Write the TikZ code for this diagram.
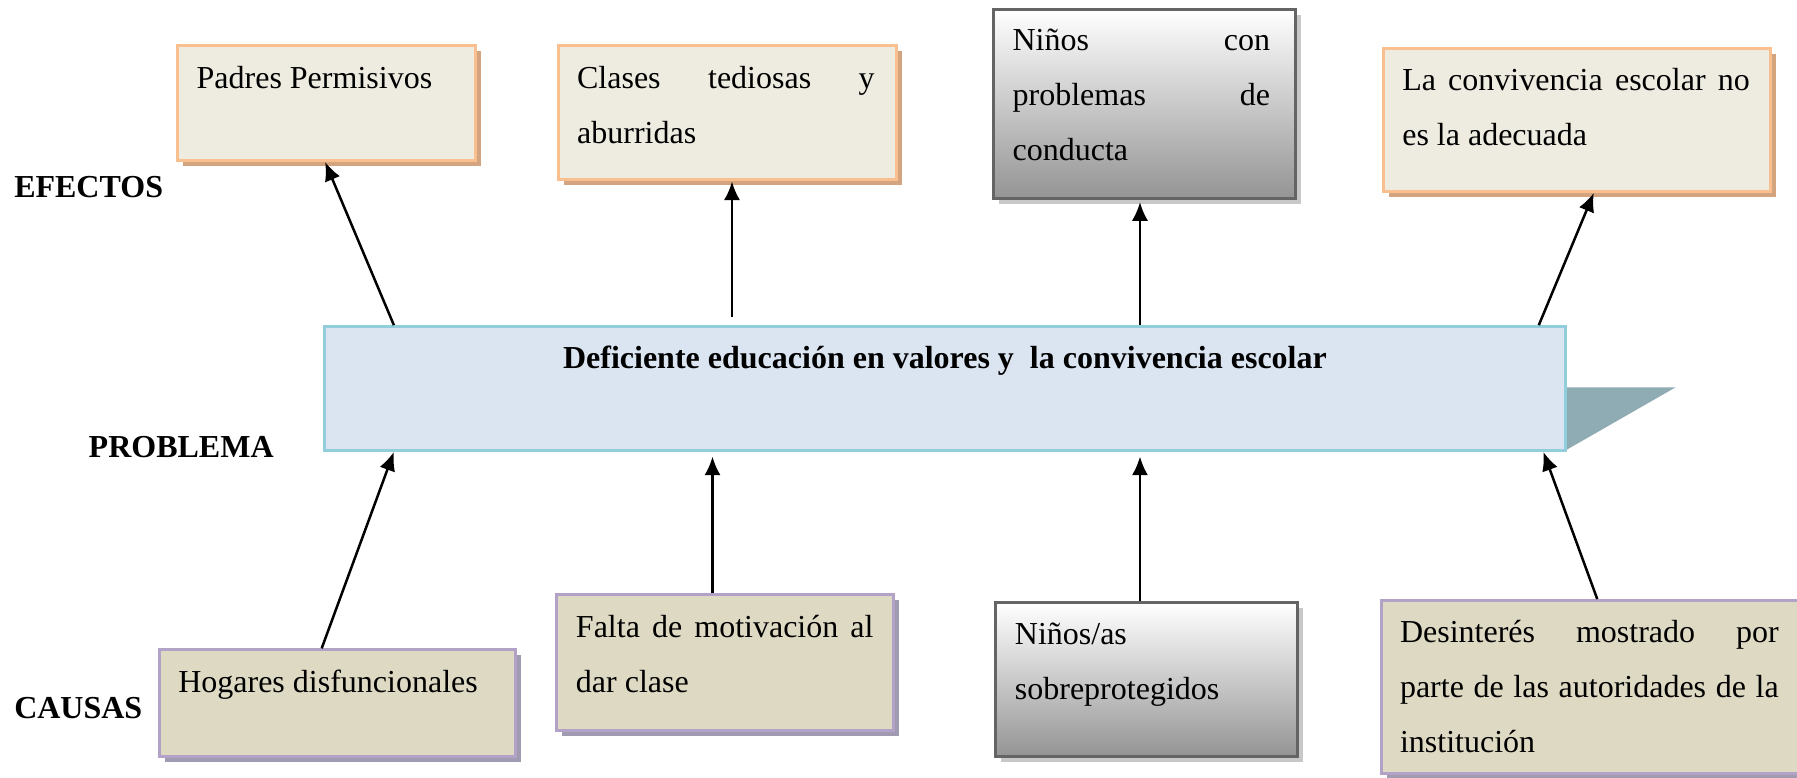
\documentclass[tikz,border=0pt]{standalone}
\usepackage{fontspec}
\setmainfont{Liberation Serif}
\usetikzlibrary{arrows.meta,fit,shadows}

\hyphenpenalty=10000
\exhyphenpenalty=10000
\tolerance=10000
\hbadness=10000

\definecolor{effline}{RGB}{250,191,143}
\definecolor{efffill}{RGB}{238,236,225}
\definecolor{effshadow}{RGB}{212,164,126}
\definecolor{cauline}{RGB}{179,162,199}
\definecolor{caufill}{RGB}{221,217,195}
\definecolor{caushadow}{RGB}{160,155,176}
\definecolor{probline}{RGB}{146,205,220}
\definecolor{probfill}{RGB}{219,229,241}
\definecolor{probtip}{RGB}{143,171,179}
\definecolor{greyline}{RGB}{100,100,100}
\definecolor{greybot}{RGB}{148,148,148}
\definecolor{greyshadow}{RGB}{200,200,200}

\tikzset{
    effbox/.style={draw=effline,fill=efffill,line width=1.2pt,inner sep=0pt,
        drop shadow={shadow xshift=2.2pt,shadow yshift=-2.2pt,fill=effshadow,opacity=1}},
    caubox/.style={draw=cauline,fill=caufill,line width=1.2pt,inner sep=0pt,
        drop shadow={shadow xshift=2.2pt,shadow yshift=-2.2pt,fill=caushadow,opacity=1}},
    greybox/.style={draw=greyline,top color=white,bottom color=greybot,line width=1.2pt,inner sep=0pt,
        drop shadow={shadow xshift=2.2pt,shadow yshift=-2.2pt,fill=greyshadow,opacity=1}},
    probbox/.style={draw=probline,fill=probfill,line width=1.2pt,inner sep=0pt},
    txt/.style={anchor=north west,inner xsep=8pt,inner ysep=8.4pt,align=justify,
        font=\fontsize{12.8pt}{22pt}\selectfont},
    probtxt/.style={inner sep=0pt,font=\bfseries\fontsize{12.8pt}{15pt}\selectfont},
    lbl/.style={anchor=west,inner sep=0pt,font=\bfseries\fontsize{12.8pt}{15pt}\selectfont},
    arr/.style={line width=1pt,-{Latex[length=7.5pt,width=6.5pt]}}
}

\begin{document}
\begin{tikzpicture}[x=0.4584pt,y=-0.4584pt]
        \useasboundingbox (0,0) rectangle (1568,678);
        %% Labels
        \node[lbl] (efectos) at (12,163) {EFECTOS};
        \node[lbl] (problema) at (77,390) {PROBLEMA};
        \node[lbl] (causas) at (12,618) {CAUSAS};
        %% Problem
        \fill[probtip] (1366,338) -- (1462,338) -- (1366,393) -- cycle;
        \node[probbox,fit={(283,285) (1366,393)}] (prob) {};
        \node[probtxt,anchor=north] (probt) at ([shift={(0,18)}]prob.north)
            {Deficiente educación en valores y~ la convivencia escolar};
        %% Effects
        \node[effbox,fit={(155,40) (415,140)}] (padres) {};
        \node[txt,text width=103pt] (padrest) at (padres.north west)
            {Padres Permisivos};
        \node[effbox,fit={(487,40) (782,157)}] (clases) {};
        \node[txt,text width=119pt] (clasest) at (clases.north west)
            {Clases tediosas y\linebreak aburridas};
        \node[greybox,fit={(867,8) (1130,173)}] (conducta) {};
        \node[txt,text width=103pt] (conductat) at (conducta.north west)
            {Niños con\linebreak problemas de\linebreak conducta};
        \node[effbox,fit={(1207,42) (1545,167)}] (conviv) {};
        \node[txt,text width=139pt] (convivt) at (conviv.north west)
            {La convivencia escolar no\linebreak es la adecuada};
        %% Causes
        \node[caubox,fit={(139,567) (450,660)}] (hogares) {};
        \node[txt,text width=126pt] (hogarest) at (hogares.north west)
            {Hogares disfuncionales};
        \node[caubox,fit={(486,519) (780,637)}] (falta) {};
        \node[txt,text width=119pt] (faltat) at (falta.north west)
            {Falta de motivación al\linebreak dar clase};
        \node[greybox,fit={(869,526) (1132,660)}] (sobrep) {};
        \node[txt,text width=103pt] (sobrept) at (sobrep.north west)
            {Niños/as\\ sobreprotegidos};
        \node[caubox,fit={(1205,524) (1580,675)}] (desint) {};
        \node[txt,text width=151.5pt] (desintt) at (desint.north west)
            {Desinterés mostrado por\linebreak parte de las autoridades de la\linebreak institución};
        %% Arrows to effects
        \draw[arr] ([shift={(62,0)}]prob.north west) -- ([shift={(130,0)}]padres.south west);
        \draw[arr] ([shift={(357,-7)}]prob.north west) -- ([shift={(153,0)}]clases.south west);
        \draw[arr] ([shift={(713,0)}]prob.north west) -- ([shift={(129,2)}]conducta.south west);
        \draw[arr] ([shift={(1061,0)}]prob.north west) -- ([shift={(185,0)}]conviv.south west);
        %% Arrows from causes
        \draw[arr] ([shift={(143,0)}]hogares.north west) -- ([shift={(62,0)}]prob.south west);
        \draw[arr] ([shift={(137,0)}]falta.north west) -- ([shift={(340,4)}]prob.south west);
        \draw[arr] ([shift={(127,0)}]sobrep.north west) -- ([shift={(713,4)}]prob.south west);
        \draw[arr] ([shift={(190,0)}]desint.north west) -- ([shift={(1065,0)}]prob.south west);
\end{tikzpicture}
\end{document}
